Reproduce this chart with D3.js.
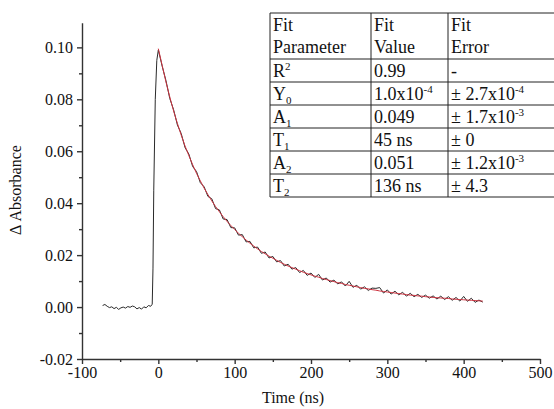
<!DOCTYPE html>
<html>
<meta charset="utf-8">
<style>
body {
  margin: 0;
  background: white;
}
svg text {
  font-family: 'Liberation Serif', 'DejaVu Serif', serif;
  fill: #111;
}
.axis path,
.axis line {
  fill: none;
  stroke: #333;
  stroke-width: 1.4px;
}
.axis text {
  font-size: 16px;
}
.tbl line {
  stroke: #222;
  stroke-width: 1px;
}
.tbl text {
  font-size: 18px;
}
</style>
<body>
<script src="https://cdn.jsdelivr.net/npm/d3@7/dist/d3.min.js"></script>
<script>
var w = 554;
var h = 409;

// pre-trigger baseline and rise (ns, dA)
var preTimes  = [-73, -70, -67, -64, -61, -58, -55, -52, -49, -46, -43, -40, -37, -34,
                 -31, -28, -25, -22, -19, -16, -13, -10, -8, -7, -6, -4, -2];
var preValues = [0.0006, 0.0010, 0.0003, -0.0002, 0.0001, -0.0006, -0.0001, -0.0009, -0.0003,
                 0.0000, -0.0004, 0.0002, -0.0001, 0.0004, 0.0001, -0.0007, -0.0002, -0.0008,
                 0.0001, -0.0003, 0.0006, 0.0003, 0.0011, 0.0150, 0.0450, 0.0800, 0.0950];

// decay part, sampled every 5 ns starting at t = 0
var decayStart = 0;
var decayStep = 5;
var decayValues = [0.0990, 0.0928, 0.0872, 0.0803, 0.0760, 0.0701, 0.0668, 0.0614, 0.0589, 0.0541,
                   0.0522, 0.0479, 0.0463, 0.0426, 0.0417, 0.0379, 0.0374, 0.0339, 0.0337, 0.0306,
                   0.0305, 0.0277, 0.0279, 0.0251, 0.0253, 0.0228, 0.0231, 0.0207, 0.0212, 0.0189,
                   0.0195, 0.0174, 0.0179, 0.0158, 0.0165, 0.0146, 0.0152, 0.0133, 0.0141, 0.0122,
                   0.0131, 0.0114, 0.0126, 0.0104, 0.0112, 0.0096, 0.0104, 0.0089, 0.0097, 0.0081,
                   0.0099, 0.0076, 0.0084, 0.0069, 0.0078, 0.0064, 0.0073, 0.0072, 0.0075, 0.0054,
                   0.0066, 0.0050, 0.0061, 0.0047, 0.0057, 0.0042, 0.0053, 0.0040, 0.0049, 0.0037,
                   0.0046, 0.0034, 0.0043, 0.0031, 0.0042, 0.0029, 0.0040, 0.0026, 0.0037, 0.0023,
                   0.0041, 0.0022, 0.0034, 0.0018, 0.0027, 0.0019];

// fitted curve (red), same time grid
var fitValues = [0.0995, 0.0931, 0.0867, 0.0809, 0.0755, 0.0707, 0.0662, 0.0620, 0.0583, 0.0548,
                 0.0515, 0.0486, 0.0458, 0.0433, 0.0409, 0.0387, 0.0367, 0.0348, 0.0330, 0.0314,
                 0.0299, 0.0284, 0.0271, 0.0258, 0.0246, 0.0235, 0.0224, 0.0214, 0.0205, 0.0196,
                 0.0188, 0.0180, 0.0172, 0.0165, 0.0158, 0.0152, 0.0146, 0.0140, 0.0134, 0.0129,
                 0.0124, 0.0119, 0.0115, 0.0110, 0.0106, 0.0102, 0.0098, 0.0094, 0.0091, 0.0087,
                 0.0084, 0.0081, 0.0078, 0.0075, 0.0072, 0.0070, 0.0067, 0.0065, 0.0062, 0.0060,
                 0.0058, 0.0056, 0.0054, 0.0052, 0.0050, 0.0048, 0.0046, 0.0045, 0.0043, 0.0042,
                 0.0040, 0.0039, 0.0037, 0.0036, 0.0035, 0.0034, 0.0033, 0.0031, 0.0030, 0.0029,
                 0.0028, 0.0027, 0.0026, 0.0025, 0.0024, 0.0023];

var xTicks = [-100, 0, 100, 200, 300, 400, 500];
var yTicks = [-0.02, 0.00, 0.02, 0.04, 0.06, 0.08, 0.10];

// fit table: [parameter, value, error]; ^ = superscript, _ = subscript
var tableHead = [["Fit", "Parameter"], ["Fit", "Value"], ["Fit", "Error"]];
var tableRows = [
  [["R", "^2"], ["0.99"], ["-"]],
  [["Y", "_0"], ["1.0x10", "^-4"], ["± 2.7x10", "^-4"]],
  [["A", "_1"], ["0.049"], ["± 1.7x10", "^-3"]],
  [["T", "_1"], ["45 ns"], ["± 0"]],
  [["A", "_2"], ["0.051"], ["± 1.2x10", "^-3"]],
  [["T", "_2"], ["136 ns"], ["± 4.3"]]
];

var margin = {left: 82, right: 14, top: 22.7, bottom: 50};

var xScale = d3.scaleLinear()
    .domain([-100, 500])
    .range([margin.left, w - margin.right]);

var yScale = d3.scaleLinear()
    .domain([-0.02, 0.1095])
    .range([h - margin.bottom, margin.top]);

var svg = d3.select("body")
    .append("svg")
    .attr("width", w)
    .attr("height", h);

// build the trace points
var trace = preTimes.map(function(t, i) { return [t, preValues[i]]; });
decayValues.forEach(function(v, i) { trace.push([decayStart + i * decayStep, v]); });
var fit = fitValues.map(function(v, i) { return [decayStart + i * decayStep, v]; });

var line = d3.line()
    .x(function(d) { return xScale(d[0]); })
    .y(function(d) { return yScale(d[1]); });

// plain hyphen for negatives, like the original
var f2 = d3.format(".2f");
function hy(s) { return String(s).replace("−", "-"); }

// minor ticks
svg.append("g")
    .attr("class", "axis")
    .attr("transform", "translate(0," + yScale(-0.02) + ")")
    .call(d3.axisBottom(xScale).tickValues(d3.range(-50, 500, 100)).tickSize(3).tickFormat(""))
    .select(".domain").remove();

svg.append("g")
    .attr("class", "axis")
    .attr("transform", "translate(" + margin.left + ",0)")
    .call(d3.axisLeft(yScale).tickValues([-0.01, 0.01, 0.03, 0.05, 0.07, 0.09]).tickSize(3).tickFormat(""))
    .select(".domain").remove();

// x-axis
svg.append("g")
    .attr("class", "axis")
    .attr("transform", "translate(0," + yScale(-0.02) + ")")
    .call(d3.axisBottom(xScale).tickValues(xTicks).tickSize(5).tickSizeOuter(0).tickPadding(3)
      .tickFormat(function(d) { return String(d); }));

// y-axis
svg.append("g")
    .attr("class", "axis")
    .attr("transform", "translate(" + margin.left + ",0)")
    .call(d3.axisLeft(yScale).tickValues(yTicks).tickSize(5).tickSizeOuter(0).tickPadding(4)
      .tickFormat(function(d) { return hy(f2(d)); }));

// axis titles
svg.append("text")
    .attr("x", 293)
    .attr("y", 403)
    .attr("text-anchor", "middle")
    .style("font-size", "16px")
    .text("Time (ns)");

svg.append("text")
    .attr("transform", "translate(21,190) rotate(-90)")
    .attr("text-anchor", "middle")
    .style("font-size", "16px")
    .text("Δ Absorbance");

// data trace and fit
svg.append("path")
    .datum(trace)
    .attr("d", line)
    .attr("fill", "none")
    .attr("stroke", "#2a2a2a")
    .attr("stroke-width", 1);

svg.append("path")
    .datum(fit)
    .attr("d", line)
    .attr("fill", "none")
    .attr("stroke", "#cc3340")
    .attr("stroke-width", 1);

// table
var tbl = svg.append("g").attr("class", "tbl");
var colX = [270, 371, 448, 560];
var rowY = [13, 59];
tableRows.forEach(function(r, i) { rowY.push(59 + (i + 1) * 23); });

tbl.append("rect")
    .attr("x", colX[0]).attr("y", rowY[0])
    .attr("width", colX[3] - colX[0]).attr("height", rowY[rowY.length - 1] - rowY[0])
    .attr("fill", "white");

rowY.forEach(function(y) {
  tbl.append("line").attr("x1", colX[0]).attr("x2", colX[3]).attr("y1", y).attr("y2", y);
});
colX.slice(0, 3).forEach(function(x) {
  tbl.append("line").attr("x1", x).attr("x2", x).attr("y1", rowY[0]).attr("y2", rowY[rowY.length - 1]);
});

function cellText(parts, x, y) {
  var t = tbl.append("text").attr("x", x).attr("y", y);
  parts.forEach(function(p) {
    if (p[0] === "^") {
      t.append("tspan").attr("dy", -7).style("font-size", "11px").text(p.slice(1));
    } else if (p[0] === "_") {
      t.append("tspan").attr("dy", 4).style("font-size", "11px").text(p.slice(1));
    } else {
      t.append("tspan").text(p);
    }
  });
}

tableHead.forEach(function(hd, j) {
  tbl.append("text").attr("x", colX[j] + 3).attr("y", 31).text(hd[0]);
  tbl.append("text").attr("x", colX[j] + 3).attr("y", 53).text(hd[1]);
});

tableRows.forEach(function(r, i) {
  r.forEach(function(c, j) {
    cellText(c, colX[j] + 3, rowY[i + 1] + 18);
  });
});
</script>
</body>
</html>
